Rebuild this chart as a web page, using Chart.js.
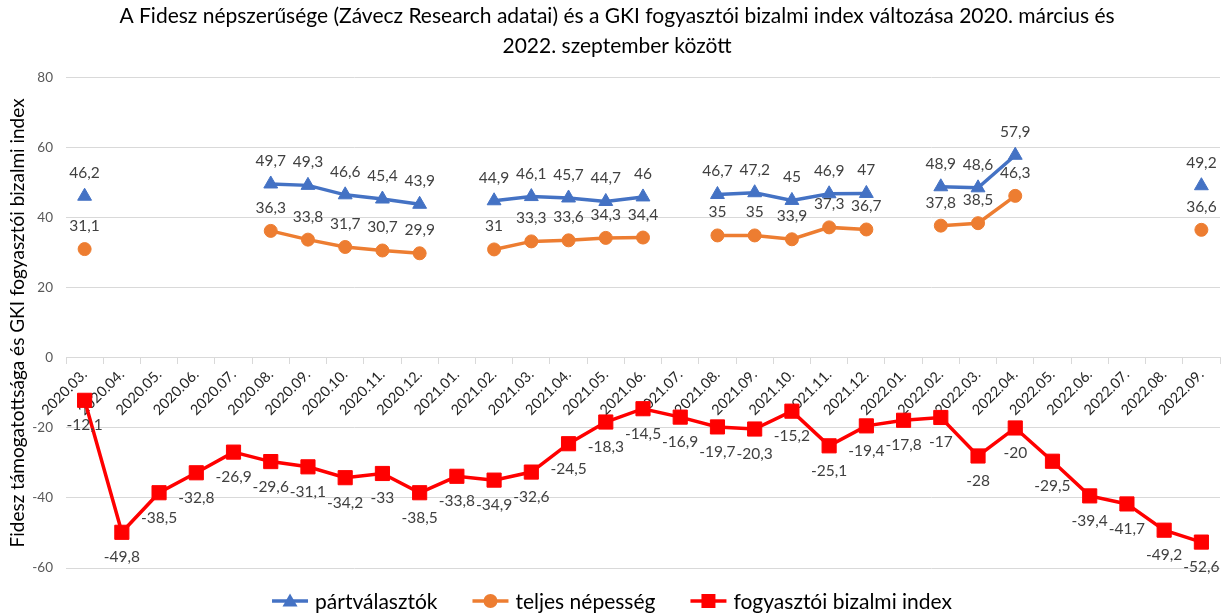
<!DOCTYPE html>
<html>
<head>
<meta charset="utf-8">
<script src="https://cdn.jsdelivr.net/npm/chart.js@4.4.0/dist/chart.umd.min.js"></script>
<style>
html,body{margin:0;padding:0;background:#fff;}
#wrap{width:1231px;height:615px;position:relative;}
</style>
</head>
<body>
<div id="wrap"><canvas id="c" width="1231" height="615"></canvas></div>
<script>
const categories = ["2020.03.","2020.04.","2020.05.","2020.06.","2020.07.","2020.08.","2020.09.","2020.10.","2020.11.","2020.12.",
"2021.01.","2021.02.","2021.03.","2021.04.","2021.05.","2021.06.","2021.07.","2021.08.","2021.09.","2021.10.","2021.11.","2021.12.",
"2022.01.","2022.02.","2022.03.","2022.04.","2022.05.","2022.06.","2022.07.","2022.08.","2022.09."];
const partvalasztok = [46.2,null,null,null,null,49.7,49.3,46.6,45.4,43.9,
null,44.9,46.1,45.7,44.7,46,null,46.7,47.2,45,46.9,47,
null,48.9,48.6,57.9,null,null,null,null,49.2];
const teljesNepesseg = [31.1,null,null,null,null,36.3,33.8,31.7,30.7,29.9,
null,31,33.3,33.6,34.3,34.4,null,35,35,33.9,37.3,36.7,
null,37.8,38.5,46.3,null,null,null,null,36.6];
const bizalmiIndex = [-12.1,-49.8,-38.5,-32.8,-26.9,-29.6,-31.1,-34.2,-33,-38.5,
-33.8,-34.9,-32.6,-24.5,-18.3,-14.5,-16.9,-19.7,-20.3,-15.2,-25.1,-19.4,
-17.8,-17,-28,-20,-29.5,-39.4,-41.7,-49.2,-52.6];
const yTicks = [-60,-40,-20,0,20,40,60,80];
const titleLines = ["A Fidesz népszerűsége (Závecz Research adatai) és a GKI fogyasztói bizalmi index változása 2020. március és","2022. szeptember között"];
const yTitle = "Fidesz támogatottsága és GKI fogyasztói bizalmi index";

const FONT = "Lato, 'Open Sans', sans-serif";

function drawMarker(g, style, x, y, color){
  g.fillStyle = color;
  g.beginPath();
  if (style==='triangle'){ g.moveTo(x,y-7.5); g.lineTo(x+7.5,y+5.5); g.lineTo(x-7.5,y+5.5); g.closePath(); }
  else if (style==='circle'){ g.arc(x,y,7,0,Math.PI*2); }
  else { g.rect(x-7,y-7,14,14); }
  g.fill();
}

const labelPlugin = {
  id:'valLabels',
  afterDatasetsDraw(chart){
    const ctx = chart.ctx;
    ctx.save();
    ctx.font = "15.5px " + FONT;
    ctx.fillStyle = "#404040";
    ctx.textAlign = "center";
    ctx.textBaseline = "middle";
    chart.data.datasets.forEach((ds, i) => {
      const meta = chart.getDatasetMeta(i);
      meta.data.forEach((pt, j) => {
        const v = ds.data[j];
        if (v === null || v === undefined) return;
        const txt = String(v).replace('.', ',');
        const dy = ds.labelPos === 'above' ? -23 : 25;
        ctx.fillText(txt, pt.x, pt.y + dy);
      });
    });
    ctx.restore();
  }
};

const legendPlugin = {
  id:'customLegend',
  afterDraw(chart){
    const ctx = chart.ctx;
    ctx.save();
    ctx.font = "21px " + FONT;
    ctx.textBaseline = "middle";
    ctx.textAlign = "left";
    const iconW = 36, iconGap = 7, itemGap = 35;
    const styles = ['triangle','circle','rect'];
    const items = chart.data.datasets.map((ds,i)=>({text:ds.label, color:ds.borderColor, style:styles[i], w:ctx.measureText(ds.label).width}));
    const total = items.reduce((s,it)=>s+iconW+iconGap+it.w,0) + itemGap*(items.length-1);
    let x = 612 - total/2;
    const y = 601;
    items.forEach(it=>{
      ctx.strokeStyle = it.color; ctx.lineWidth = 3.5;
      ctx.beginPath(); ctx.moveTo(x,y); ctx.lineTo(x+iconW,y); ctx.stroke();
      drawMarker(ctx, it.style, x+iconW/2, y, it.color);
      ctx.fillStyle = '#000';
      ctx.fillText(it.text, x+iconW+iconGap, y+1);
      x += iconW+iconGap+it.w+itemGap;
    });
    ctx.restore();
  }
};

new Chart(document.getElementById('c'), {
  type:'line',
  data:{
    labels: categories,
    datasets:[
      {label:'pártválasztók', data:partvalasztok, borderColor:'#4472C4', backgroundColor:'#4472C4',
       borderWidth:3.5, pointStyle:'triangle', pointRadius:8, pointHoverRadius:8, pointBorderWidth:1, spanGaps:false, labelPos:'above', order:3},
      {label:'teljes népesség', data:teljesNepesseg, borderColor:'#ED7D31', backgroundColor:'#ED7D31',
       borderWidth:3.5, pointStyle:'circle', pointRadius:6.5, pointHoverRadius:6.5, pointBorderWidth:1, spanGaps:false, labelPos:'above', order:2},
      {label:'fogyasztói bizalmi index', data:bizalmiIndex, borderColor:'#FF0000', backgroundColor:'#FF0000',
       borderWidth:3.5, pointStyle:'rect', pointRadius:10, pointHoverRadius:10, pointBorderWidth:1, labelPos:'below', order:1}
    ]
  },
  options:{
    responsive:false,
    animation:false,
    layout:{padding:{left:6,right:3,top:0,bottom:47}},
    plugins:{
      title:{display:true, text:titleLines, color:'#000', font:{family:FONT, size:21, weight:'normal', lineHeight:1.45}, padding:{top:1,bottom:16}},
      legend:{display:false},
      tooltip:{enabled:false}
    },
    scales:{
      x:{
        position:{y:0},
        offset:true,
        grid:{display:true, drawOnChartArea:false, drawTicks:true, tickLength:6, color:'#d9d9d9', offset:true},
        border:{display:true, color:'#d9d9d9', width:1},
        ticks:{color:'#262626', font:{family:FONT, size:14.5}, minRotation:45, maxRotation:45, autoSkip:false, padding:2}
      },
      y:{
        min:-60, max:80,
        afterBuildTicks(scale){ scale.ticks = yTicks.map(v=>({value:v})); },
        afterFit(scale){ scale.width = 60; },
        grid:{color:'#d9d9d9', lineWidth:1, drawTicks:false},
        border:{display:false},
        ticks:{color:'#595959', font:{family:FONT, size:13.5}, padding:13},
        title:{display:true, text:yTitle, color:'#000', font:{family:FONT, size:19}, padding:{top:0,bottom:2}}
      }
    }
  },
  plugins:[labelPlugin, legendPlugin]
});
</script>
</body>
</html>
